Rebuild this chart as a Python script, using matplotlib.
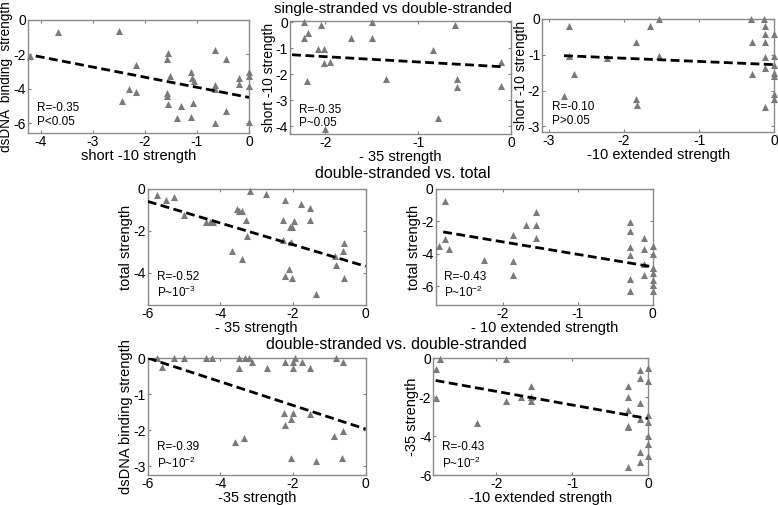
import numpy as np
import matplotlib
matplotlib.use("Agg")
import matplotlib.pyplot as plt

plt.rcParams['font.family'] = ['Liberation Sans', 'DejaVu Sans']
plt.rcParams['axes.unicode_minus'] = False

# --- panel data ---
# top-left: short -10 vs dsDNA binding
p1_x = [-4.21, -3.68, -2.50, -2.17, -2.30, -2.44, -2.17, -1.55, -1.57, -1.51, -1.57, -1.57,
        -1.55, -1.30, -1.38, -1.11, -1.10, -1.05, -1.07, -1.11, -0.65, -0.65, -0.65, -0.65,
        -0.45, -0.45, -0.19, -0.19, 0.0, 0.0, 0.0, 0.0]
p1_y = [-2.13, -0.72, -0.68, -2.61, -4.02, -4.68, -4.16, -1.90, -2.28, -3.25, -4.22, -4.41,
        -4.87, -4.99, -5.71, -3.00, -3.35, -3.54, -4.84, -5.61, -1.78, -3.77, -4.02, -5.96,
        -2.28, -5.28, -3.38, -3.73, -3.00, -3.25, -3.83, -5.94]
p1_fit = ([-4.1, 0.0], [-2.1, -4.5])

# top-middle: -35 vs short -10
p2_x = [-2.23, -2.23, -2.19, -2.20, -2.05, -2.08, -2.02, -2.02, -1.95, -2.01, -1.72, -1.50,
        -1.50, -1.35, -0.84, -0.79, -0.61, -0.58, -0.58, -0.11, -0.11]
p2_y = [0.0, -0.63, -0.41, -2.28, -0.13, -1.03, -1.03, -1.57, -1.55, -4.13, -0.62, 0.0,
        -0.62, -2.18, -1.06, -3.70, -0.13, -2.18, -2.50, -1.55, -2.45]
p2_fit = ([-2.36, -0.1], [-1.26, -1.72])

# top-right: -10 extended vs short -10
p3_x = [-2.80, -2.73, -2.73, -2.67, -2.23, -1.84, -1.84, -1.83, -1.66, -1.54, -1.54,
        -0.31, -0.30, -0.30, -0.13, -0.12, -0.12, -0.12, -0.12, -0.12, -0.12,
        0.0, 0.0, 0.0, 0.0, 0.0, 0.0, 0.0]
p3_y = [-2.15, -0.19, -1.04, -1.53, -1.09, -0.64, -2.25, -2.41, -0.19, 0.0, -1.04,
        0.0, -0.64, -1.55, 0.0, -0.19, -0.43, -0.64, -1.06, -1.37, -2.45,
        -0.43, -1.04, -1.28, -1.52, -1.60, -2.10, -2.25]
p3_fit = ([-2.8, 0.0], [-1.03, -1.28])

# middle-left: -35 vs total
p4_x = [-5.75, -5.50, -5.27, -5.01, -4.39, -4.30, -4.21, -3.18, -2.74, -2.23, -1.77, -1.53,
        -3.53, -3.49, -3.40, -3.30, -2.28, -1.97, -1.53, -2.09, -2.03, -3.26, -2.28, -2.05,
        -3.67, -3.41, -0.59, -0.62, -0.84, -0.81, -2.11, -2.23, -2.03, -0.60, -1.37]
p4_y = [-0.30, -0.55, -0.40, -1.27, -1.56, -1.56, -1.56, -0.08, -0.24, -0.51, -0.72, -0.91,
        -0.96, -1.04, -1.07, -1.50, -1.50, -1.52, -1.50, -1.84, -1.84, -2.27, -2.46, -2.56,
        -2.96, -3.34, -2.59, -2.96, -3.23, -3.66, -3.81, -4.14, -4.24, -4.24, -5.04]
p4_fit = ([-6.0, 0.0], [-0.6, -3.7])

# middle-right: -10 extended vs total
p5_x = [-2.78, -2.78, -2.85, -2.72, -2.26, -1.87, -1.87, -1.87, -1.69, -1.56, -1.56, -1.56,
        -0.31, -0.31, -0.31, -0.31, -0.31, -0.31,
        -0.12, -0.12, -0.12, -0.12,
        0.0, 0.0, 0.0, 0.0, 0.0, 0.0, 0.0]
p5_y = [-0.77, -3.11, -3.49, -3.69, -4.40, -2.84, -4.46, -5.29, -2.22, -1.43, -2.22, -3.01,
        -2.07, -2.59, -3.57, -4.09, -5.54, -6.27,
        -3.00, -3.70, -4.60, -5.30,
        -3.50, -4.00, -4.90, -5.20, -5.60, -5.90, -6.30]
p5_fit = ([-2.8, 0.0], [-2.65, -4.8])

# bottom-left: -35 vs dsDNA binding
p6_x = [-5.75, -5.60, -5.27, -5.01, -4.41, -4.24, -3.48, -3.33, -3.21, -1.95, -0.83,
        -3.12, -3.48, -2.71, -2.21, -2.00, -1.74, -2.00, -1.53, -0.62,
        -2.25, -2.01, -2.05, -2.21, -1.53, -3.60, -3.36, -0.87, -0.62, -2.07, -1.36, -0.65]
p6_y = [0.0, -0.25, 0.0, 0.0, 0.0, 0.0, 0.0, 0.0, 0.0, 0.0, 0.0,
        -0.12, -0.28, -0.28, -0.10, -0.10, -0.10, -0.28, -0.28, -0.10,
        -1.53, -1.53, -1.68, -1.85, -1.54, -2.34, -2.23, -2.16, -2.02, -2.78, -2.85, -2.76]
p6_fit = ([-6.0, 0.0], [0.0, -1.97])

# bottom-right: -10 extended vs -35
p7_x = [-2.74, -2.80, -2.80, -2.26, -1.87, -1.87, -1.68, -1.54, -1.54, -1.54,
        -0.27, -0.27, -0.27, -0.27, -0.27, -0.27,
        -0.10, -0.10, -0.10, -0.10, -0.10, -0.10,
        0.0, 0.0, 0.0, 0.0, 0.0, 0.0, 0.0]
p7_y = [-0.07, -0.55, -2.05, -3.31, -0.07, -2.19, -2.02, -1.45, -2.02, -2.19,
        -1.43, -1.98, -2.64, -3.47, -3.53, -5.57,
        -0.60, -1.00, -2.30, -3.10, -4.80, -5.30,
        -0.50, -1.20, -2.90, -3.30, -4.00, -4.40, -5.00]
p7_fit = ([-2.8, 0.0], [-1.15, -3.1])

panels = [
    # x, y, fit, rect, xlim, ylim, xticks, yticks, xlabel, ylabel, ylabel size, stats
    (p1_x, p1_y, p1_fit, [0.036, 0.737, 0.284, 0.224], (-4.25, 0), (-6.55, 0),
     [-4, -3, -2, -1, 0], [-6, -4, -2, 0], 'short -10 strength', 'dsDNA  binding  strength', 9.8,
     'R=-0.35\nP<0.05'),
    (p2_x, p2_y, p2_fit, [0.373, 0.735, 0.284, 0.224], (-2.38, 0), (-4.3, 0.05),
     [-2, -1, 0], [-4, -3, -2, -1, 0], '- 35 strength', 'short -10 strength', 10,
     'R=-0.35\nP~0.05'),
    (p3_x, p3_y, p3_fit, [0.697, 0.739, 0.298, 0.224], (-3.09, 0), (-3.15, 0),
     [-3, -2, -1, 0], [-3, -2, -1, 0], '-10 extended strength', 'short -10 strength', 10,
     'R=-0.10\nP>0.05'),
    (p4_x, p4_y, p4_fit, [0.190, 0.396, 0.280, 0.230], (-6, 0), (-5.55, 0),
     [-6, -4, -2, 0], [-4, -2, 0], '- 35 strength', 'total strength', 10.5,
     'R=-0.52\nP~10$^{\\mathregular{-3}}$'),
    (p5_x, p5_y, p5_fit, [0.560, 0.396, 0.279, 0.230], (-2.9, 0), (-7.15, 0),
     [-2, -1, 0], [-6, -4, -2, 0], '- 10 extended strength', 'total strength', 10.5,
     'R=-0.43\nP~10$^{\\mathregular{-2}}$'),
    (p6_x, p6_y, p6_fit, [0.190, 0.059, 0.280, 0.232], (-6, 0), (-3.25, 0),
     [-6, -4, -2, 0], [-3, -2, -1, 0], '-35 strength', 'dsDNA binding strength', 10.5,
     'R=-0.39\nP~10$^{\\mathregular{-2}}$'),
    (p7_x, p7_y, p7_fit, [0.557, 0.059, 0.276, 0.232], (-2.83, 0), (-6, 0),
     [-2, -1, 0], [-6, -4, -2, 0], '-10 extended strength', '-35 strength', 10.5,
     'R=-0.43\nP~10$^{\\mathregular{-2}}$'),
]

fig = plt.figure(figsize=(7.78, 5.05), dpi=100)

for (xs, ys, fit, rect, xl, yl, xt, yt, xlab, ylab, ysize, stats) in panels:
    ax = fig.add_axes(rect)
    ax.scatter(xs, ys, marker='^', s=26, color='#7a7a7a', linewidths=0, clip_on=False, zorder=3)
    ax.plot(fit[0], fit[1], color='black', linestyle=(0, (3.2, 1.6)), linewidth=2.0, zorder=4)
    ax.set_xlim(*xl)
    ax.set_ylim(*yl)
    ax.set_xticks(xt)
    ax.set_yticks(yt)
    ax.tick_params(direction='in', top=True, right=True, length=2.5, width=0.8,
                   color='#808080', labelsize=10, pad=1.5)
    for sp in ax.spines.values():
        sp.set_color('#8a8a8a')
        sp.set_linewidth(1.0)
    ax.set_xlabel(xlab, fontsize=10.5, labelpad=0)
    ax.set_ylabel(ylab, fontsize=ysize, labelpad=0)
    ax.text(0.04, 0.04, stats, transform=ax.transAxes, fontsize=8.5,
            ha='left', va='bottom', linespacing=1.2)

fig.text(0.505, 0.982, 'single-stranded vs double-stranded', fontsize=11, ha='center', va='center')
fig.text(0.518, 0.657, 'double-stranded vs. total', fontsize=11.5, ha='center', va='center')
fig.text(0.51, 0.317, 'double-stranded vs. double-stranded', fontsize=11.5, ha='center', va='center')

fig.savefig('out.png', dpi=100)
